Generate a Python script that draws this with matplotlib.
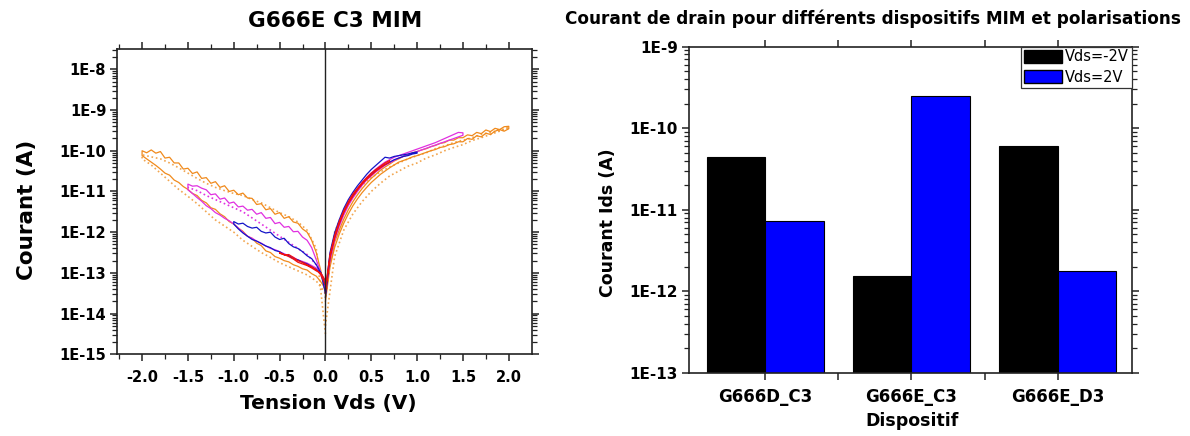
import numpy as np
import matplotlib
matplotlib.use("Agg")
import matplotlib.pyplot as plt
from matplotlib.ticker import FixedLocator, LogLocator, NullFormatter
from matplotlib.patches import Patch

plt.rcParams['font.family'] = ['DejaVu Sans']
plt.rcParams['axes.unicode_minus'] = False

# ---------------- data : left chart (I-V sweeps, log10 of current in A) ----------------
# every *_out / *_back list is given along its voltage grid, starting at 0 V
V_NEG_20 = [0.0, -0.05, -0.10, -0.15, -0.20, -0.25, -0.30, -0.35, -0.40, -0.45, -0.50,
            -0.55, -0.60, -0.65, -0.70, -0.75, -0.80, -0.85, -0.90, -0.95, -1.00,
            -1.05, -1.10, -1.15, -1.20, -1.25, -1.30, -1.35, -1.40, -1.45, -1.50,
            -1.55, -1.60, -1.65, -1.70, -1.75, -1.80, -1.85, -1.90, -1.95, -2.00]
V_POS_20 = [0.0, 0.05, 0.10, 0.15, 0.20, 0.25, 0.30, 0.35, 0.40, 0.45, 0.50,
            0.55, 0.60, 0.65, 0.70, 0.75, 0.80, 0.85, 0.90, 0.95, 1.00,
            1.05, 1.10, 1.15, 1.20, 1.25, 1.30, 1.35, 1.40, 1.45, 1.50,
            1.55, 1.60, 1.65, 1.70, 1.75, 1.80, 1.85, 1.90, 1.95, 2.00]
V_NEG_20_COARSE = [0.0, -0.1, -0.2, -0.3, -0.4, -0.5, -0.6, -0.7, -0.8, -0.9, -1.0,
                   -1.1, -1.2, -1.3, -1.4, -1.5, -1.6, -1.7, -1.8, -1.9, -2.0]
V_POS_20_COARSE = [0.0, 0.1, 0.2, 0.3, 0.4, 0.5, 0.6, 0.7, 0.8, 0.9, 1.0,
                   1.1, 1.2, 1.3, 1.4, 1.5, 1.6, 1.7, 1.8, 1.9, 2.0]

# orange sweep (solid), +-2 V
orange_neg_out = [-13.40, -13.22, -13.08, -13.02, -12.93, -12.90, -12.84, -12.80, -12.73, -12.70, -12.64,
                  -12.60, -12.50, -12.46, -12.33, -12.27, -12.15, -12.10, -11.98, -11.90, -11.80,
                  -11.74, -11.62, -11.55, -11.44, -11.40, -11.28, -11.22, -11.10, -11.05, -10.95,
                  -10.88, -10.78, -10.72, -10.60, -10.55, -10.45, -10.36, -10.28, -10.20, -10.12]
orange_neg_back = [-13.50, -12.95, -12.50, -12.20, -12.00, -11.92, -11.78, -11.75, -11.62, -11.66, -11.52,
                   -11.56, -11.42, -11.45, -11.30, -11.32, -11.17, -11.16, -11.04, -11.08, -10.97,
                   -11.00, -10.86, -10.90, -10.76, -10.80, -10.66, -10.68, -10.52, -10.56, -10.43,
                   -10.45, -10.30, -10.30, -10.16, -10.18, -10.02, -10.06, -9.98, -10.05, -10.00]
orange_pos_out = [-13.60, -12.75, -12.25, -11.95, -11.68, -11.45, -11.25, -11.08, -10.93, -10.80, -10.68,
                  -10.58, -10.48, -10.40, -10.33, -10.25, -10.20, -10.14, -10.10, -10.05, -10.02,
                  -9.98, -9.95, -9.90, -9.87, -9.82, -9.80, -9.74, -9.74, -9.68, -9.68,
                  -9.61, -9.63, -9.55, -9.58, -9.49, -9.53, -9.45, -9.48, -9.41, -9.40]
orange_pos_back = [-13.70, -12.85, -12.38, -12.05, -11.78, -11.55, -11.35, -11.18, -11.03, -10.90, -10.78,
                   -10.68, -10.58, -10.50, -10.42, -10.35, -10.28, -10.24, -10.20, -10.15, -10.12,
                   -10.08, -10.04, -10.00, -9.97, -9.92, -9.90, -9.85, -9.83, -9.78, -9.78,
                   -9.70, -9.72, -9.63, -9.66, -9.57, -9.60, -9.52, -9.48, -9.52, -9.46]

# orange sweep (dotted), +-2 V
orange_dot_neg_out = [-13.50, -13.20, -13.05, -12.95, -12.85, -12.75, -12.62, -12.50, -12.35, -12.20, -12.00,
                      -11.85, -11.70, -11.50, -11.30, -11.12, -10.95, -10.75, -10.55, -10.35, -10.20]
orange_dot_neg_back = [-14.50, -12.40, -11.95, -11.75, -11.62, -11.52, -11.40, -11.28, -11.20, -11.10, -11.05,
                       -10.98, -10.90, -10.80, -10.68, -10.55, -10.42, -10.30, -10.20, -10.15, -10.10]
orange_dot_pos_out = [-14.30, -12.60, -11.95, -11.55, -11.25, -11.00, -10.80, -10.62, -10.50, -10.38, -10.30,
                      -10.18, -10.10, -10.00, -9.92, -9.85, -9.75, -9.68, -9.60, -9.52, -9.45]
orange_dot_pos_back = [-13.40, -12.00, -11.45, -11.10, -10.85, -10.66, -10.52, -10.40, -10.30, -10.20, -10.12,
                       -10.05, -9.95, -9.88, -9.80, -9.74, -9.68, -9.60, -9.55, -9.50, -9.42]

# magenta sweep, +-1.5 V
magenta_neg_out = [-13.20, -13.00, -12.88, -12.82, -12.76, -12.72, -12.68, -12.62, -12.58, -12.53, -12.48,
                   -12.43, -12.40, -12.34, -12.27, -12.22, -12.15, -12.10, -12.00, -11.90, -11.80,
                   -11.72, -11.66, -11.58, -11.52, -11.42, -11.35, -11.24, -11.15, -11.05, -10.96]
magenta_neg_back = [-13.40, -13.00, -12.68, -12.38, -12.20, -12.12, -11.98, -11.99, -11.86, -11.88, -11.76,
                    -11.79, -11.64, -11.66, -11.52, -11.56, -11.44, -11.46, -11.36, -11.38, -11.26,
                    -11.29, -11.16, -11.19, -11.06, -11.08, -10.96, -10.92, -10.86, -10.87, -10.82]
magenta_pos_out = [-13.40, -12.55, -12.10, -11.78, -11.50, -11.28, -11.10, -10.94, -10.80, -10.66, -10.55,
                   -10.45, -10.36, -10.28, -10.22, -10.16, -10.12, -10.08, -10.04, -10.00, -9.96,
                   -9.92, -9.88, -9.84, -9.80, -9.75, -9.70, -9.65, -9.60, -9.55, -9.56]
magenta_pos_back = [-13.50, -12.70, -12.20, -11.86, -11.58, -11.35, -11.16, -11.00, -10.85, -10.72, -10.62,
                    -10.52, -10.44, -10.36, -10.30, -10.24, -10.18, -10.14, -10.10, -10.06, -10.02,
                    -9.98, -9.94, -9.90, -9.86, -9.82, -9.78, -9.74, -9.70, -9.66, -9.62]
magenta_dot_neg = [-13.30, -12.80, -12.55, -12.40, -12.25, -12.10, -11.95, -11.80, -11.65, -11.50, -11.40,
                   -11.30, -11.20, -11.10, -10.98, -10.90]

# blue sweep, +-1 V
blue_neg_out = [-13.30, -13.00, -12.92, -12.85, -12.78, -12.74, -12.68, -12.65, -12.58, -12.55, -12.48,
                -12.45, -12.38, -12.34, -12.28, -12.22, -12.18, -12.10, -12.02, -11.92, -11.80]
blue_neg_back = [-13.50, -13.00, -12.80, -12.65, -12.58, -12.48, -12.40, -12.36, -12.28, -12.15, -12.18,
                 -12.12, -12.00, -12.02, -11.98, -11.88, -11.90, -11.86, -11.78, -11.80, -11.74]
blue_pos_out = [-13.50, -12.50, -12.02, -11.70, -11.42, -11.20, -11.02, -10.86, -10.72, -10.58, -10.46,
                -10.36, -10.26, -10.16, -10.18, -10.14, -10.12, -10.10, -10.08, -10.05, -10.03]
blue_pos_back = [-13.60, -12.60, -12.12, -11.78, -11.50, -11.28, -11.10, -10.94, -10.80, -10.68, -10.58,
                 -10.48, -10.40, -10.34, -10.28, -10.22, -10.18, -10.14, -10.12, -10.08, -10.06]

# red sweep
red_neg_out = [-13.20, -13.00, -12.95, -12.88, -12.82, -12.78, -12.74, -12.66, -12.60, -12.55, -12.52]
red_neg_back = [-13.30, -13.05, -12.92, -12.85, -12.80, -12.74, -12.70, -12.62, -12.55, -12.56, -12.50]
red_pos_out = [-13.40, -12.55, -12.08, -11.74, -11.47, -11.25, -11.06, -10.92, -10.78, -10.66, -10.55,
               -10.46, -10.38, -10.30, -10.24]
red_pos_back = [-13.50, -12.62, -12.15, -11.80, -11.52, -11.30, -11.12, -10.96, -10.82, -10.70, -10.60,
                -10.50, -10.42, -10.34, -10.28]

LEFT_TITLE = "G666E C3 MIM"
LEFT_XTICKS = [-2.0, -1.5, -1.0, -0.5, 0.0, 0.5, 1.0, 1.5, 2.0]
LEFT_XTICKLABELS = ["-2.0", "-1.5", "-1.0", "-0.5", "0.0", "0.5", "1.0", "1.5", "2.0"]
LEFT_YTICKS = [1e-15, 1e-14, 1e-13, 1e-12, 1e-11, 1e-10, 1e-9, 1e-8]
LEFT_YTICKLABELS = ["1E-15", "1E-14", "1E-13", "1E-12", "1E-11", "1E-10", "1E-9", "1E-8"]

# ---------------- data : right chart (bars) ----------------
devices = ["G666D_C3", "G666E_C3", "G666E_D3"]
ids_vds_m2 = [4.4e-11, 1.42e-12, 6.0e-11]
ids_vds_p2 = [7.2e-12, 2.5e-10, 1.68e-12]
series_labels = ["Vds=-2V", "Vds=2V"]
RIGHT_YTICKS = [1e-13, 1e-12, 1e-11, 1e-10, 1e-9]
RIGHT_YTICKLABELS = ["1E-13", "1E-12", "1E-11", "1E-10", "1E-9"]

# ---------------- figure ----------------
fig = plt.figure(figsize=(11.9, 4.36), dpi=100)
axL = fig.add_axes([0.0986, 0.1874, 0.3482, 0.6995])
axR = fig.add_axes([0.579, 0.1452, 0.372, 0.748])

ORANGE = "#F08A1C"
ORANGE_DOT = "#F2A650"
MAGENTA = "#E030E0"
BLUE = "#1515C8"
RED = "#F01010"


def loop(grid, out, back):
    n = len(out)
    g = list(grid[:n])
    v = g + g[::-1]
    lg = list(out) + list(back)[::-1]
    return np.array(v), 10.0 ** np.array(lg)


def draw(ax, grid, out, back, color, ls='-', lw=0.9):
    v, i = loop(grid, out, back)
    ax.plot(v, i, color=color, ls=ls, lw=lw)


draw(axL, V_NEG_20_COARSE, orange_dot_neg_out, orange_dot_neg_back, ORANGE_DOT, ':', 1.2)
draw(axL, V_POS_20_COARSE, orange_dot_pos_out, orange_dot_pos_back, ORANGE_DOT, ':', 1.2)
draw(axL, V_NEG_20, orange_neg_out, orange_neg_back, ORANGE)
draw(axL, V_POS_20, orange_pos_out, orange_pos_back, ORANGE)
axL.plot(V_NEG_20_COARSE[:len(magenta_dot_neg)], 10.0 ** np.array(magenta_dot_neg),
         color=MAGENTA, ls=':', lw=1.2)
draw(axL, V_NEG_20, magenta_neg_out, magenta_neg_back, MAGENTA)
draw(axL, V_POS_20, magenta_pos_out, magenta_pos_back, MAGENTA)
draw(axL, V_NEG_20, blue_neg_out, blue_neg_back, BLUE)
draw(axL, V_POS_20, blue_pos_out, blue_pos_back, BLUE)
draw(axL, V_NEG_20, red_neg_out, red_neg_back, RED)
draw(axL, V_POS_20, red_pos_out, red_pos_back, RED)

axL.axvline(0.0, color="#222222", lw=1.0)
axL.set_yscale('log')
axL.set_xlim(-2.27, 2.25)
axL.set_ylim(1e-15, 3.1e-8)
axL.xaxis.set_major_locator(FixedLocator(LEFT_XTICKS))
axL.set_xticklabels(LEFT_XTICKLABELS)
axL.xaxis.set_minor_locator(FixedLocator([-2.25, -1.75, -1.25, -0.75, -0.25, 0.25, 0.75, 1.25, 1.75]))
axL.yaxis.set_major_locator(FixedLocator(LEFT_YTICKS))
axL.set_yticklabels(LEFT_YTICKLABELS)
axL.yaxis.set_minor_locator(LogLocator(base=10, subs=[2, 3, 4, 5, 6, 7, 8, 9], numticks=30))
axL.yaxis.set_minor_formatter(NullFormatter())

for ax in (axL, axR):
    for s in ax.spines.values():
        s.set_linewidth(1.2)
        s.set_color("#222222")
    ax.tick_params(which='both', direction='out', top=True, right=True, color="#222222")
    ax.tick_params(which='major', length=5, width=1.1)
    ax.tick_params(which='minor', length=3.5, width=0.9)

axL.tick_params(axis='x', which='both', pad=6)
axL.tick_params(axis='y', which='major', pad=3)
for lab in axL.get_xticklabels() + axL.get_yticklabels():
    lab.set_fontweight('bold')
    lab.set_fontsize(10.5)

axL.set_title(LEFT_TITLE, fontsize=15.5, fontweight='bold', x=0.525, y=1.073, pad=0)
axL.set_xlabel("Tension Vds (V)", fontsize=14.5, fontweight='bold')
axL.xaxis.set_label_coords(0.51, -0.13)
axL.set_ylabel("Courant (A)", fontsize=15.5, fontweight='bold')
axL.yaxis.set_label_coords(-0.194, 0.473)

# ---------------- right chart ----------------
pos = np.array([1.0, 2.0, 3.0])
w = 0.4
axR.bar(pos - w / 2, ids_vds_m2, width=w, bottom=1e-13, color="#000000", edgecolor="#000000",
        lw=0.8, label=series_labels[0])
axR.bar(pos + w / 2, ids_vds_p2, width=w, bottom=1e-13, color="#0000FF", edgecolor="#000000",
        lw=0.8, label=series_labels[1])
axR.set_yscale('log')
axR.set_ylim(1e-13, 1e-9)
axR.set_xlim(0.48, 3.505)
axR.xaxis.set_major_locator(FixedLocator(list(pos)))
axR.set_xticklabels(devices)
axR.xaxis.set_minor_locator(FixedLocator([1.5, 2.5]))
axR.yaxis.set_major_locator(FixedLocator(RIGHT_YTICKS))
axR.set_yticklabels(RIGHT_YTICKLABELS)
axR.yaxis.set_minor_locator(LogLocator(base=10, subs=[2, 3, 4, 5, 6, 7, 8, 9], numticks=30))
axR.yaxis.set_minor_formatter(NullFormatter())
axR.tick_params(axis='x', which='minor', length=5, width=1.1)
axR.tick_params(axis='x', which='both', pad=6)
axR.tick_params(axis='y', which='major', pad=3)
for lab in axR.get_xticklabels():
    lab.set_fontweight('bold')
    lab.set_fontsize(12)
for lab in axR.get_yticklabels():
    lab.set_fontweight('bold')
    lab.set_fontsize(11)

axR.set_title("Courant de drain pour différents dispositifs MIM et polarisations",
              fontsize=12.2, fontweight='bold', x=0.4156, y=1.0696, pad=0)
axR.set_xlabel("Dispositif", fontsize=12.5, fontweight='bold')
axR.xaxis.set_label_coords(0.504, -0.122)
axR.set_ylabel("Courant Ids (A)", fontsize=12.5, fontweight='bold')
axR.yaxis.set_label_coords(-0.163, 0.459)

handles = [Patch(facecolor="#000000", edgecolor="#000000", label=series_labels[0]),
           Patch(facecolor="#0000FF", edgecolor="#000000", label=series_labels[1])]
leg = axR.legend(handles=handles, loc='upper right', fontsize=10.5, frameon=True, fancybox=False,
                 edgecolor="#333333", framealpha=1, borderpad=0.2, borderaxespad=0.0,
                 handlelength=2.6, handleheight=1.0, handletextpad=0.2, labelspacing=0.35)
leg.get_frame().set_linewidth(0.9)

fig.savefig("out.png", dpi=100)
